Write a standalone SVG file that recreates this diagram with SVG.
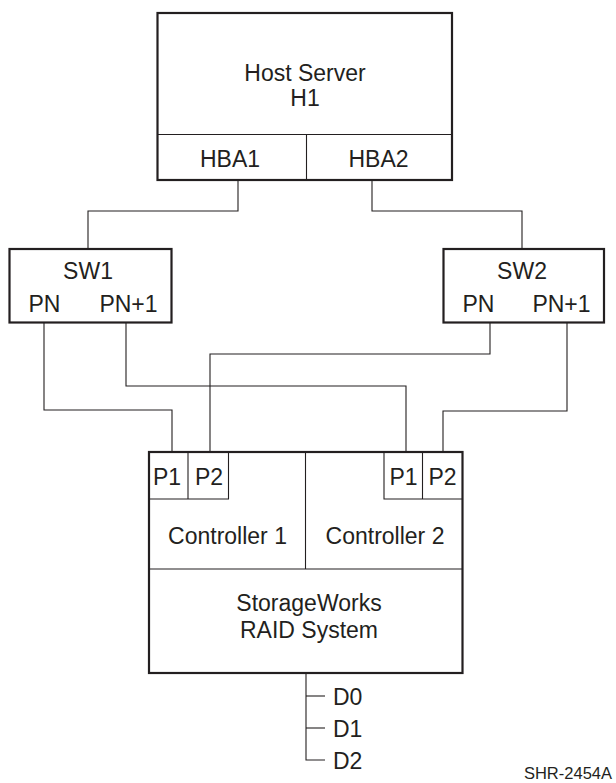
<svg xmlns="http://www.w3.org/2000/svg" width="616" height="783" viewBox="0 0 616 783">
<style>
text{font-family:"Liberation Sans",Arial,sans-serif;font-size:23px;fill:#231f20;text-anchor:middle}
.box{fill:#fff;stroke:#231f20;stroke-width:2.2}
.div{fill:none;stroke:#231f20;stroke-width:1.1}
.wire{fill:none;stroke:#231f20;stroke-width:1.1}
.small{font-size:16.5px;text-anchor:end}
.lft{text-anchor:start}
</style>
<rect width="616" height="783" fill="#fff"/>
<g id="connectors">
<polyline class="wire" points="238,180 238,211 88,211 88,249"/>
<polyline class="wire" points="372,180 372,211 522,211 522,249"/>
<polyline class="wire" points="44,323 44,410 172,410 172,452"/>
<polyline class="wire" points="126,323 126,386 406,386 406,452"/>
<polyline class="wire" points="490,323 490,354 210,354 210,452"/>
<polyline class="wire" points="567,323 567,411 443,411 443,452"/>
<polyline class="wire" points="306,673 306,760 325,760"/>
<line class="wire" x1="306" y1="696" x2="325" y2="696"/>
<line class="wire" x1="306" y1="728" x2="325" y2="728"/>
</g>
<g id="host">
<rect class="box" x="157.5" y="13" width="294.5" height="167"/>
<line class="div" x1="157.5" y1="134.5" x2="452" y2="134.5"/>
<line class="div" x1="306.5" y1="134.5" x2="306.5" y2="180"/>
<text x="305" y="81">Host Server</text>
<text x="305" y="106">H1</text>
<text x="230" y="166.5">HBA1</text>
<text x="378.5" y="166.5">HBA2</text>
</g>
<g id="sw1">
<rect class="box" x="9.5" y="249" width="162" height="73.5"/>
<text x="88" y="278.5">SW1</text>
<text x="44.5" y="311.5">PN</text>
<text x="128.5" y="311.5">PN+1</text>
</g>
<g id="sw2">
<rect class="box" x="443.5" y="249" width="160.5" height="73.5"/>
<text x="522" y="278.5">SW2</text>
<text x="478.5" y="311.5">PN</text>
<text x="561.5" y="311.5">PN+1</text>
</g>
<g id="raid">
<rect class="box" x="149" y="452" width="313.5" height="221"/>
<line class="div" x1="149" y1="569" x2="462.5" y2="569"/>
<line class="div" x1="305.5" y1="452" x2="305.5" y2="569"/>
<polyline class="div" points="149,499 228.5,499 228.5,452"/>
<line class="div" x1="188" y1="452" x2="188" y2="499"/>
<polyline class="div" points="462.5,499 384,499 384,452"/>
<line class="div" x1="422.5" y1="452" x2="422.5" y2="499"/>
<text x="167" y="485">P1</text>
<text x="209" y="485">P2</text>
<text x="403.5" y="485">P1</text>
<text x="442.5" y="485">P2</text>
<text x="227.5" y="544">Controller 1</text>
<text x="385" y="544">Controller 2</text>
<text x="309" y="611">StorageWorks</text>
<text x="309" y="637.5">RAID System</text>
</g>
<g id="drives">
<text class="lft" x="333" y="704.5">D0</text>
<text class="lft" x="333" y="736.5">D1</text>
<text class="lft" x="333" y="768.5">D2</text>
</g>
<text class="small" x="612" y="778.5">SHR-2454A</text>
</svg>
